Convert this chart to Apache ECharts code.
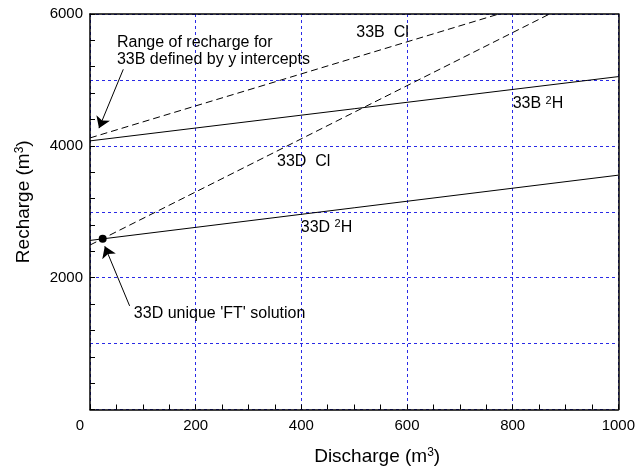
<!DOCTYPE html>
<html>
<head>
<meta charset="utf-8">
<script src="https://cdn.jsdelivr.net/npm/echarts@6/dist/echarts.min.js"></script>
<style>html,body{margin:0;padding:0;background:#fff}#c{width:638px;height:471px}</style>
</head>
<body>
<div id="c"></div>
<script>
// ---- data ----
const xTicks = [0, 200, 400, 600, 800, 1000];
const yTicks = [2000, 4000, 6000];
const b33H_x = [0, 1000];
const b33H_y = [4075, 5050];
const b33Cl_x = [0, 774];
const b33Cl_y = [4120, 6000];
const d33H_x = [0, 1000];
const d33H_y = [2565, 3555];
const d33Cl_x = [0, 870];
const d33Cl_y = [2495, 6000];
const ftPoint = [24, 2590];
const noteText = ['33B  Cl', '33B {sup|2}H', '33D  Cl', '33D {sup|2}H',
  'Range of recharge for\n33B defined by y intercepts', "33D unique 'FT' solution"];
const noteX = [504, 800, 354, 399, 51, 83];
const noteY = [5714, 4634, 3756, 2762, 5437, 1456];
const arrowFrom = [[63, 5161], [75, 1572]];
const arrowTo = [[17, 4268], [28, 2476]];

const pairs = (xs, ys) => xs.map((x, i) => [x, ys[i]]);
const FONT = '"Liberation Sans", Arial, sans-serif';
const blue = '#2a2ae6';
const supStyle = { fontSize: 11, color: '#000', verticalAlign: 'top', padding: [0, 0, 6, 0] };

const chart = echarts.init(document.getElementById('c'), null, { renderer: 'canvas' });

const solid = { color: '#000', width: 1, type: 'solid' };
const dashed = { color: '#000', width: 1, type: [7, 4] };

chart.setOption({
  animation: false,
  backgroundColor: '#fff',
  textStyle: { fontFamily: FONT, color: '#000' },
  grid: { left: 90, right: 12, top: 14, bottom: 58, containLabel: false },
  xAxis: [
    {
      type: 'value', min: 0, max: 1000, interval: 200, position: 'bottom',
      axisLine: { show: true, onZero: false, lineStyle: { color: '#000', width: 1.5 } },
      axisTick: { show: false },
      axisLabel: {
        fontFamily: FONT, fontSize: 15, color: '#000', margin: 9,
        formatter: v => xTicks.includes(v) ? (v === 0 ? '{z|0}' : String(v)) : '',
        rich: { z: { fontSize: 15, fontFamily: FONT, color: '#000', padding: [0, 20, 0, 0] } }
      },
      splitLine: { show: true, lineStyle: { color: blue, width: 1, type: [3, 3] } },
      name: 'Discharge (m{sup|3})', nameLocation: 'middle', nameGap: 37,
      nameTextStyle: { fontFamily: FONT, fontSize: 19, color: '#000', padding: [0, 0, 0, 46],
        rich: { sup: { fontSize: 12, color: '#000', verticalAlign: 'top', padding: [0, 0, 8, 0] } } }
    },
    {
      type: 'value', min: 0, max: 1000, interval: 50, position: 'bottom',
      axisLine: { show: false }, axisLabel: { show: false }, splitLine: { show: false },
      axisTick: { show: true, inside: true, length: 5, lineStyle: { color: '#000', width: 1 } }
    },
    {
      type: 'value', min: 0, max: 1000, position: 'top',
      axisLine: { show: true, onZero: false, lineStyle: { color: '#000', width: 1.5 } },
      axisLabel: { show: false }, axisTick: { show: false }, splitLine: { show: false }
    }
  ],
  yAxis: [
    {
      type: 'value', min: 0, max: 6000, interval: 1000, position: 'left',
      axisLine: { show: true, onZero: false, lineStyle: { color: '#000', width: 1.5 } },
      axisTick: { show: false },
      axisLabel: {
        fontFamily: FONT, fontSize: 15, color: '#000', margin: 7,
        formatter: v => yTicks.includes(v) ? String(v) : ''
      },
      splitLine: { show: true, lineStyle: { color: blue, width: 1, type: [3, 3] } },
      name: 'Recharge (m{sup|3})', nameLocation: 'middle', nameGap: 56, nameRotate: 90,
      nameTextStyle: { fontFamily: FONT, fontSize: 19, color: '#000', padding: [0, 0, 0, 20],
        rich: { sup: { fontSize: 12, color: '#000', verticalAlign: 'top', padding: [0, 0, 8, 0] } } }
    },
    {
      type: 'value', min: 0, max: 6000, interval: 400, position: 'left',
      axisLine: { show: false }, axisLabel: { show: false }, splitLine: { show: false },
      axisTick: { show: true, inside: true, length: 5, lineStyle: { color: '#000', width: 1 } }
    },
    {
      type: 'value', min: 0, max: 6000, position: 'right',
      axisLine: { show: true, onZero: false, lineStyle: { color: '#000', width: 1.5 } },
      axisLabel: { show: false }, axisTick: { show: false }, splitLine: { show: false }
    }
  ],
  series: [
    { type: 'line', name: '33B 2H', data: pairs(b33H_x, b33H_y), showSymbol: false, lineStyle: solid, clip: true, z: 3 },
    { type: 'line', name: '33B Cl', data: pairs(b33Cl_x, b33Cl_y), showSymbol: false, lineStyle: dashed, clip: true, z: 3 },
    { type: 'line', name: '33D 2H', data: pairs(d33H_x, d33H_y), showSymbol: false, lineStyle: solid, clip: true, z: 3 },
    { type: 'line', name: '33D Cl', data: pairs(d33Cl_x, d33Cl_y), showSymbol: false, lineStyle: dashed, clip: true, z: 3 },
    { type: 'scatter', name: 'FT', data: [ftPoint], symbol: 'circle', symbolSize: 8,
      itemStyle: { color: '#000', opacity: 1 }, z: 5 },
    {
      type: 'lines', coordinateSystem: 'cartesian2d', z: 5,
      data: arrowFrom.map((f, i) => ({ coords: [f, arrowTo[i]] })),
      symbol: ['none', 'arrow'], symbolSize: [0, 11],
      lineStyle: { color: '#000', width: 1, opacity: 1 }
    },
    {
      type: 'scatter', name: 'notes', symbolSize: 0, z: 6, silent: true,
      itemStyle: { color: '#000', opacity: 1 },
      data: noteText.map((t, i) => ({ value: [noteX[i], noteY[i]], name: t })),
      label: {
        show: true, position: 'right', distance: 0, align: 'left', verticalAlign: 'middle',
        fontFamily: FONT, fontSize: 16, color: '#000', opacity: 1, lineHeight: 17,
        formatter: p => p.name,
        rich: { sup: supStyle }
      }
    }
  ]
});
</script>
</body>
</html>
